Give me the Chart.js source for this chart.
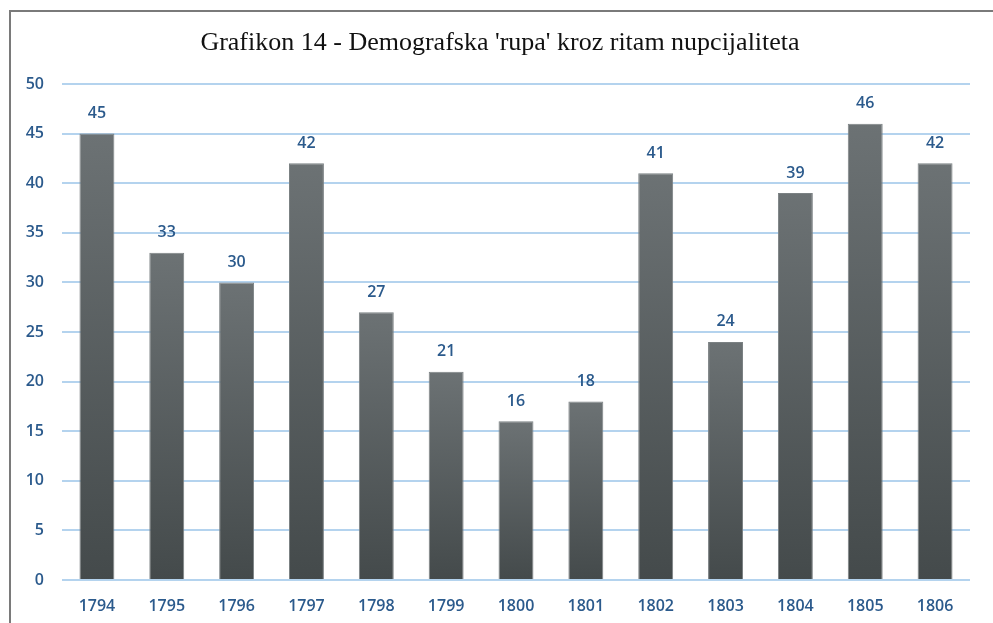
<!DOCTYPE html>
<html>
<head>
<meta charset="utf-8">
<script src="https://cdn.jsdelivr.net/npm/chart.js@4/dist/chart.umd.min.js"></script>
<style>
  html, body { margin: 0; padding: 0; background: #fff; }
  #wrap { position: absolute; left: 0; top: 0; width: 993px; height: 623px; }
  #frame { position: absolute; left: 9px; top: 10px; right: 0; bottom: 0;
    border-top: 2px solid #7a7a7a; border-left: 2px solid #7a7a7a; }
  canvas { position: absolute; left: 0; top: 0; }
</style>
</head>
<body>
<div id="wrap">
  <div id="frame"></div>
  <canvas id="nupChart" width="993" height="623"></canvas>
</div>
<script>
const years = ['1794', '1795', '1796', '1797', '1798', '1799', '1800', '1801', '1802', '1803', '1804', '1805', '1806'];
const marriages = [45, 33, 30, 42, 27, 21, 16, 18, 41, 24, 39, 46, 42];
const chartTitle = "Grafikon 14 - Demografska 'rupa' kroz ritam nupcijaliteta";

const blueText = '#2b5a8c';
const gridBlue = '#b4d3ee';

// per-bar vertical gradient, lighter at the top
function barGradient(context) {
  const chart = context.chart;
  const yScale = chart.scales.y;
  if (!yScale || context.parsed === undefined) return '#5a6061';
  const top = yScale.getPixelForValue(context.parsed.y);
  const base = yScale.getPixelForValue(0);
  if (!isFinite(top) || !isFinite(base)) return '#5a6061';
  const g = chart.ctx.createLinearGradient(0, top, 0, base);
  g.addColorStop(0, '#6c7274');
  g.addColorStop(1, '#444a4b');
  return g;
}

// value labels above each bar + title centred on the whole frame
const valueLabels = {
  id: 'valueLabels',
  afterDatasetsDraw(chart) {
    const ctx = chart.ctx;
    const meta = chart.getDatasetMeta(0);
    ctx.save();
    ctx.font = '600 16px "Open Sans"';
    ctx.fillStyle = blueText;
    ctx.textAlign = 'center';
    ctx.textBaseline = 'middle';
    meta.data.forEach((bar, i) => {
      ctx.fillText(String(marriages[i]), bar.x, bar.y - 20);
    });

    ctx.font = '26px "Liberation Serif", "Times New Roman", serif';
    ctx.fillStyle = '#111';
    ctx.fillText(chartTitle, 500, 43);
    ctx.restore();
  }
};

new Chart(document.getElementById('nupChart'), {
  type: 'bar',
  data: {
    labels: years,
    datasets: [{
      data: marriages,
      backgroundColor: barGradient,
      borderColor: '#7b8183',
      borderWidth: 1,
      barPercentage: 0.5,
      categoryPercentage: 1
    }]
  },
  options: {
    responsive: false,
    animation: false,
    layout: { padding: { left: 0, right: 23, top: 84, bottom: 0 } },
    plugins: {
      legend: { display: false },
      tooltip: { enabled: false },
      title: { display: false }
    },
    scales: {
      x: {
        grid: { display: false, drawTicks: false },
        border: { display: false },
        ticks: { color: blueText, padding: 17, font: { family: '"Open Sans"', size: 16, weight: '600' } },
        afterFit: (scale) => { scale.height = 43; }
      },
      y: {
        min: 0,
        max: 50,
        ticks: { stepSize: 5, color: blueText, padding: 18, font: { family: '"Open Sans"', size: 16, weight: '600' } },
        grid: { color: gridBlue, lineWidth: 2, drawTicks: false },
        border: { display: false },
        afterFit: (scale) => { scale.width = 62; }
      }
    }
  },
  plugins: [valueLabels]
});
</script>
</body>
</html>
